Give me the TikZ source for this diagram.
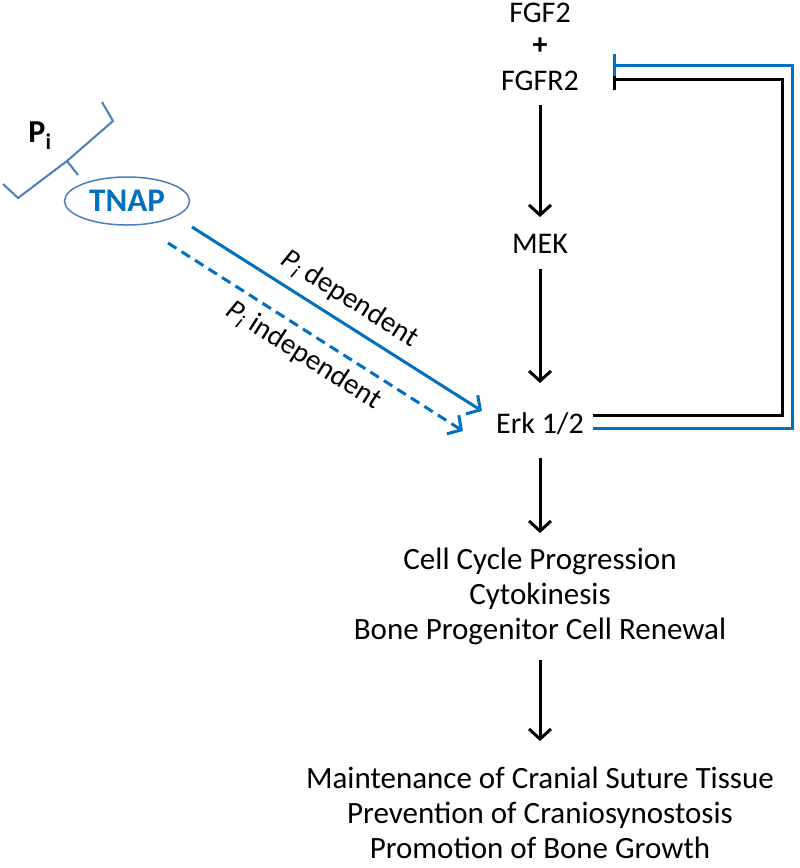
\documentclass[tikz,border=0pt]{standalone}
\usepackage{fontspec}
\setmainfont{Carlito}
\usetikzlibrary{arrows.meta,shapes.geometric}
\definecolor{tnapblue}{RGB}{0,112,192}
\definecolor{lineblue}{RGB}{74,126,187}

\begin{document}
\begin{tikzpicture}[x=1pt,y=-1pt]
	\tikzstyle{every node}=[inner sep=0pt,font=\fontsize{30}{36}\selectfont]
	\tikzstyle{outcome}=[align=center,font=\fontsize{31}{35}\selectfont]
	\tikzstyle{flow}=[line width=3pt,-{Straight Barb[length=10pt,width=22pt,line width=3pt]}]
	\tikzstyle{bluflow}=[flow,tnapblue]
	\tikzstyle{inhibit}=[line width=3pt,-{Bar[width=22pt,line width=3pt]}]
	\tikzstyle{pilabel}=[sloped,font=\fontsize{29}{32}\selectfont,text=black]
	\useasboundingbox (0,0) rectangle (800,868);
	% pathway
	\node (fgf) at (540,13) {FGF2};
	\node (plus) at (540,46) {\textbf{+}};
	\node (fgfr) at (540,81) {FGFR2};
	\node (mek) at (540,244) {MEK};
	\node (erk) at (540,424) {Erk 1/2};
	\node[outcome] (cell) at (540,596) {Cell Cycle Progression\\Cytokinesis\\Bone Progenitor Cell Renewal};
	\node[outcome] (tissue) at (540,813) {Maintenance of Cranial Suture Tissue\\Prevention of Craniosynostosis\\Promotion of Bone Growth};
	\draw[flow,shorten <=24pt,shorten >=27pt] (fgfr.center) -- (mek.center);
	\draw[flow,shorten <=25pt,shorten >=41pt] (mek.center) -- (erk.center);
	\draw[flow,shorten <=34pt,shorten >=63pt] (erk.center) -- (cell.center);
	\draw[flow,shorten <=64pt,shorten >=72pt] (cell.center) -- (tissue.center);
	% feedback
	\coordinate (fbblack) at (613,79);
	\coordinate (fbblue) at (613,65);
	\draw[inhibit] ([shift={(53,-9)}]erk.center) -| (782,79) -- (fbblack);
	\draw[inhibit,tnapblue] ([shift={(53,4)}]erk.center) -| (792,65) -- (fbblue);
	% TNAP
	\node[draw=lineblue,line width=1.5pt,ellipse,minimum width=125pt,minimum height=48pt,
		text=tnapblue,font=\fontsize{33}{36}\selectfont\bfseries] (tnap) at (127,201) {TNAP};
	\node (pi) at (40,136) {\fontsize{32}{34}\selectfont\bfseries P\textsubscript{i}};
	\draw[lineblue,line width=2pt] (3,184) -- (18,198) -- (67,161) -- (113,121) -- (102,102)
		(67,161) -- (78,175);
	\draw[bluflow] (192,227) -- node[pilabel,above=9pt] {\textit{P\textsubscript{i}} dependent} (482,411);
	\draw[bluflow,dash pattern=on 10pt off 6pt] (168,243) -- node[pilabel,below=8pt] {\textit{P\textsubscript{i}} independent} (463,431);
\end{tikzpicture}
\end{document}
